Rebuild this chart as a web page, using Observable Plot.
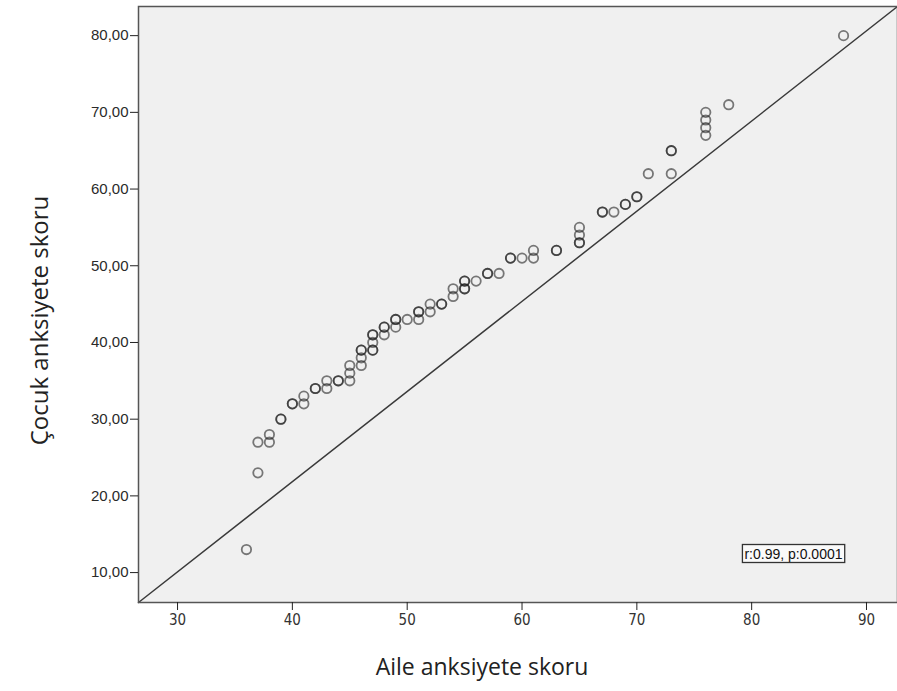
<!DOCTYPE html>
<html><head><meta charset="utf-8">
<script src="https://cdn.jsdelivr.net/npm/d3@7"></script>
<script src="https://cdn.jsdelivr.net/npm/@observablehq/plot@0.6"></script>
<style>body{margin:0;background:#fff}</style>
</head><body><div id="chart"></div>
<script>
// Aile (parent) anxiety score vs Çocuk (child) anxiety score; repeated pairs are repeated entries
const aileScores = [36,37,37,38,38,39,39,40,40,41,41,42,42,43,43,44,44,45,45,45,46,46,46,46,47,47,47,47,47,48,48,48,49,49,49,50,51,51,51,52,52,53,53,54,54,55,55,55,55,56,57,57,58,59,59,60,61,61,63,63,65,65,65,65,67,67,68,69,69,70,70,71,73,73,73,76,76,76,76,78,88];
const cocukScores = [13,23,27,27,28,30,30,32,32,32,33,34,34,34,35,35,35,35,36,37,37,38,39,39,39,39,40,41,41,41,42,42,42,43,43,43,43,44,44,44,45,45,45,46,47,47,47,48,48,48,49,49,49,51,51,51,51,52,52,52,53,53,54,55,57,57,57,58,58,59,59,62,62,65,65,67,68,69,70,71,80];
const xTicks = [30, 40, 50, 60, 70, 80, 90];
const yTicks = [10, 20, 30, 40, 50, 60, 70, 80];
const xDomain = [26.6, 92.7];
const yDomain = [6.1, 83.8];
const refLineX = [26.6, 92.7];
const refLineY = [6.1, 83.8];
const xTitle = "Aile anksiyete skoru";
const yTitle = "Çocuk anksiyete skoru";
const statLabel = "r:0.99, p:0.0001";

const points = aileScores.map((x, i) => ({x, y: cocukScores[i]}));
const linePts = refLineX.map((x, i) => ({x, y: refLineY[i]}));

const chart = Plot.plot({
  width: 897, height: 691,
  marginLeft: 138, marginRight: 0, marginTop: 6, marginBottom: 89,
  style: {fontFamily: "'Liberation Sans', Arial, sans-serif", fontSize: "13px", color: "#222", background: "#fff"},
  x: {domain: xDomain},
  y: {domain: yDomain},
  marks: [
    Plot.frame({fill: "#f0f0f0", stroke: null}),
    Plot.line(linePts, {x: "x", y: "y", stroke: "#3a3a3a", strokeWidth: 1.5}),
    Plot.dot(points, {x: "x", y: "y", r: 4.7, stroke: "#1e1e1e", strokeWidth: 1.8, strokeOpacity: 0.58, fill: "none"}),
    Plot.frame({stroke: "#555", strokeWidth: 1.5}),
    Plot.axisX({ticks: xTicks, tickSize: 8, tickPadding: 4, label: null, tickFormat: d => String(d),
      fontSize: 15, fontFamily: "'Liberation Sans Narrow', 'DejaVu Sans Condensed', sans-serif", fill: "#333"}),
    Plot.axisY({ticks: yTicks, tickSize: 8, tickPadding: 2, label: null, tickFormat: d => d.toFixed(2).replace(".", ","),
      fontSize: 15, fill: "#2a2a2a"}),
    Plot.text([xTitle], {text: d => d, frameAnchor: "bottom", textAnchor: "middle", dx: -36, dy: 72, fontSize: 23, fontFamily: "'Open Sans', sans-serif", fill: "#222"}),
    Plot.text([yTitle], {text: d => d, frameAnchor: "left", textAnchor: "middle", dx: -98, dy: 16, rotate: -90, fontSize: 24, fontFamily: "'Open Sans', sans-serif", fill: "#222"}),
    Plot.text([statLabel], {text: d => d, frameAnchor: "bottom-right", textAnchor: "end", dx: -55, dy: -44, fontSize: 14, fill: "#111"})
  ]
});
document.getElementById("chart").appendChild(chart);

// draw the box around the statistics label
d3.select(chart).selectAll("text").filter(function() { return this.textContent === statLabel; }).each(function() {
  const bb = this.getBBox();
  const r = document.createElementNS("http://www.w3.org/2000/svg", "rect");
  r.setAttribute("x", bb.x - 2);
  r.setAttribute("y", bb.y - 1);
  r.setAttribute("width", bb.width + 4);
  r.setAttribute("height", bb.height + 2);
  r.setAttribute("fill", "#fafafa");
  r.setAttribute("stroke", "#333");
  r.setAttribute("stroke-width", 1.3);
  const t = this.getAttribute("transform");
  if (t) r.setAttribute("transform", t);
  this.parentNode.insertBefore(r, this);
});
</script>
</body></html>
